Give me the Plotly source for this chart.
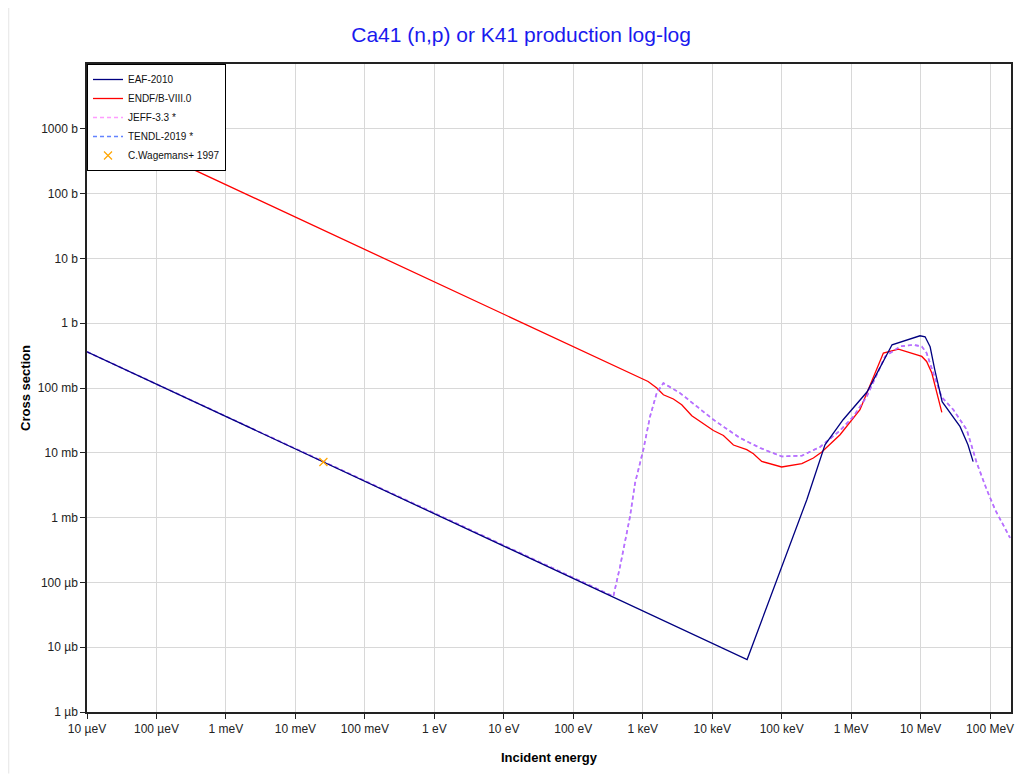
import plotly.graph_objects as go

# ---------------- data (energy in eV, cross section in barns) ----------------
eaf_E = [1e-5, 3.18e4, 2.3e5, 4.2e5, 7.66e5, 1.7e6, 3.88e6, 9.8e6, 1.16e7, 1.37e7,
         1.6e7, 2.04e7, 3.7e7, 4.8e7, 5.7e7]
eaf_xs = [0.362, 6.45e-6, 1.89e-3, 0.0133, 0.0324, 0.0875, 0.464, 0.64, 0.617, 0.432,
          0.191, 0.0614, 0.0253, 0.0133, 0.0073]

endf_E = [1e-5, 968, 1194, 1592, 1982, 2761, 3639, 5082, 1.04e4, 1.45e4, 2.02e4, 3.14e4,
          3.92e4, 5.16e4, 1.0e5, 1.95e5, 2.86e5, 3.78e5, 6.92e5, 1.34e6, 2.91e6, 4.79e6,
          1.04e7, 1.22e7, 1.45e7, 2.02e7]
endf_xs = [1370, 0.142, 0.126, 0.100, 0.0787, 0.0676, 0.0552, 0.0373, 0.0221, 0.0185,
           0.0132, 0.0112, 0.00968, 0.00736, 0.00604, 0.00679, 0.00832, 0.0103, 0.0190,
           0.0462, 0.346, 0.399, 0.307, 0.257, 0.170, 0.042]

jeff_E = [1e-5, 377.6, 472, 656, 775, 1021, 1274, 1589, 1982, 3443, 1.04e4, 2.52e4,
          4.89e4, 1.0e5, 1.95e5, 3.57e5, 6.92e5, 1.08e6, 1.68e6, 3.08e6, 5.07e6, 7.87e6,
          1.04e7, 1.22e7, 1.61e7, 2.01e7, 2.96e7, 4.61e7, 6.43e7, 8.95e7, 1.18e8, 1.94e8]
jeff_xs = [0.362, 6.1e-5, 1.77e-4, 1.04e-3, 3.42e-3, 0.0112, 0.0364, 0.0836, 0.119,
           0.0836, 0.0324, 0.0169, 0.0119, 0.00879, 0.00902, 0.0123, 0.0221, 0.0364,
           0.0741, 0.307, 0.438, 0.464, 0.438, 0.346, 0.142, 0.0724, 0.0462, 0.0227,
           6.97e-3, 2.70e-3, 1.33e-3, 4.85e-4]

tendl_E = jeff_E
tendl_xs = jeff_xs

exp_E = [0.0253]
exp_xs = [7.2e-3]

x_tickvals = [1e-5, 1e-4, 1e-3, 1e-2, 1e-1, 1, 10, 100, 1e3, 1e4, 1e5, 1e6, 1e7, 1e8]
x_ticktext = ["10 µeV", "100 µeV", "1 meV", "10 meV", "100 meV", "1 eV", "10 eV",
              "100 eV", "1 keV", "10 keV", "100 keV", "1 MeV", "10 MeV", "100 MeV"]
y_tickvals = [1e-6, 1e-5, 1e-4, 1e-3, 1e-2, 1e-1, 1, 10, 100, 1000]
y_ticktext = ["1 µb", "10 µb", "100 µb", "1 mb", "10 mb", "100 mb", "1 b", "10 b",
              "100 b", "1000 b"]

title_text = "Ca41 (n,p) or K41 production log-log"

FONT = "Liberation Sans, Arial, sans-serif"

# ---------------- figure ----------------
fig = go.Figure()
fig.add_trace(go.Scatter(x=endf_E, y=endf_xs, mode="lines", name="ENDF/B-VIII.0",
                         legendrank=2, line=dict(color="#ff0000", width=1.3)))
fig.add_trace(go.Scatter(x=tendl_E, y=tendl_xs, mode="lines", name="TENDL-2019 *",
                         legendrank=4,
                         line=dict(color="rgba(60,100,255,0.8)", width=1.6, dash="4px,3px")))
fig.add_trace(go.Scatter(x=jeff_E, y=jeff_xs, mode="lines", name="JEFF-3.3 *",
                         legendrank=3,
                         line=dict(color="rgba(255,90,255,0.6)", width=1.6, dash="4px,3px")))
fig.add_trace(go.Scatter(x=eaf_E, y=eaf_xs, mode="lines", name="EAF-2010",
                         legendrank=1, line=dict(color="#000080", width=1.3)))
fig.add_trace(go.Scatter(x=exp_E, y=exp_xs, mode="markers", name="C.Wagemans+ 1997",
                         legendrank=5,
                         marker=dict(symbol="x-thin", size=8, color="#ffa500",
                                     line=dict(color="#ffa500", width=1.2))))

axis_common = dict(
    type="log", showgrid=True, gridcolor="#d8d8d8", gridwidth=1, automargin=False,
    showline=True, linecolor="#222222", linewidth=1.5, mirror=True,
    ticks="outside", ticklen=5, tickcolor="#222222", zeroline=False,
    tickfont=dict(family=FONT, size=12, color="#222222"),
)

# the page body adds an 8px offset, so the figure is sized to fit the window
fig.update_layout(
    width=1016, height=766,
    margin=dict(l=79, r=13, t=56, b=62),
    paper_bgcolor="white", plot_bgcolor="white",
    title=dict(text=title_text, x=0.505, xref="container", y=0.9648, yref="container",
               xanchor="center", yanchor="middle",
               font=dict(family=FONT, size=21, color="#1a1aee")),
    xaxis=dict(axis_common, range=[-5, 8.301], tickvals=x_tickvals, ticktext=x_ticktext,
               title=dict(text="<b>Incident energy</b>", standoff=18,
                          font=dict(family=FONT, size=13, color="black"))),
    yaxis=dict(axis_common, range=[-6, 4], tickvals=y_tickvals, ticktext=y_ticktext,
               title=dict(text="<b>Cross section</b>", standoff=4,
                          font=dict(family=FONT, size=13, color="black"))),
    legend=dict(x=0.0, y=1.0, xanchor="left", yanchor="top",
                bgcolor="white", bordercolor="black", borderwidth=1,
                font=dict(family=FONT, size=10, color="#111111"),
                tracegroupgap=0, itemwidth=30),
    showlegend=True,
)

# faint outer frame line (left) of the original image
fig.add_shape(type="line", xref="paper", yref="paper", x0=-0.0849, x1=-0.0849,
              y0=1.09, y1=-0.095, line=dict(color="#ebebeb", width=1.5))

fig.write_html("out.html")
